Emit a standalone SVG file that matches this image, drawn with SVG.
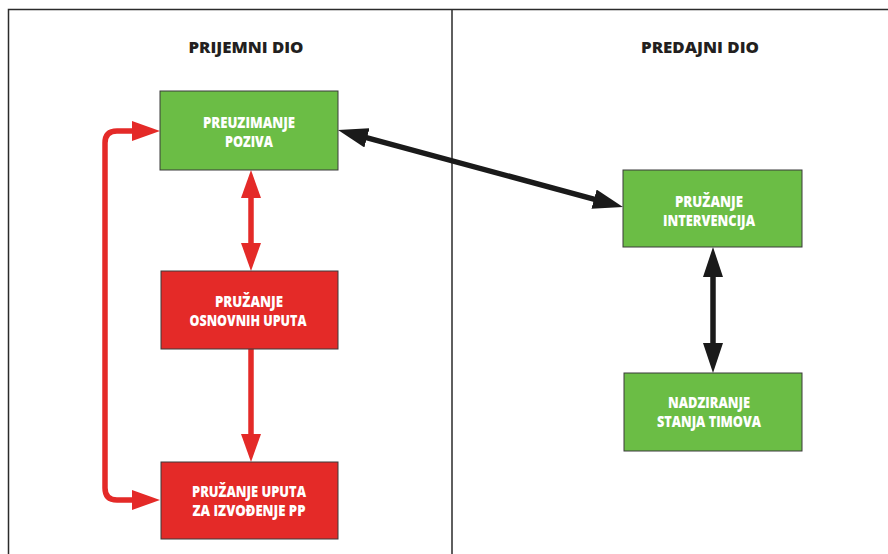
<svg xmlns="http://www.w3.org/2000/svg" width="888" height="554" viewBox="0 0 888 554">
<style>
.frame{fill:none;stroke:#2b2b2b;stroke-width:1.5}
.box{stroke:#3a3a3a;stroke-width:1}
.green{fill:#6bbd45}
.red{fill:#e42a28}
.lbl{font-family:"Open Sans","Liberation Sans",sans-serif;font-weight:800;font-size:15px;fill:#ffffff;text-anchor:middle}
.title{font-family:"Open Sans","Liberation Sans",sans-serif;font-weight:800;font-size:16px;fill:#231f20;text-anchor:middle}
.rc{fill:none;stroke:#e42a28;stroke-width:5.5}
.bc{fill:none;stroke:#1a1a1a;stroke-width:5.5}
</style>
<defs>
<marker id="ar" markerUnits="userSpaceOnUse" markerWidth="28" markerHeight="20" viewBox="0 0 28 20" refX="13" refY="10" orient="auto-start-reverse">
<path d="M0,0 L28,10 L0,20 z" fill="#e42a28"/>
</marker>
<marker id="ab" markerUnits="userSpaceOnUse" markerWidth="30" markerHeight="20" viewBox="0 0 30 20" refX="15" refY="10" orient="auto-start-reverse">
<path d="M0,0 L30,10 L0,20 z" fill="#1a1a1a"/>
</marker>
</defs>
<rect width="888" height="554" fill="#ffffff"/>
<g id="frame">
<path class="frame" d="M8.5,554 V9.5 H888 M452,9.5 V554"/>
<text class="title" x="246" y="53" textLength="115" lengthAdjust="spacingAndGlyphs">PRIJEMNI DIO</text>
<text class="title" x="700" y="53" textLength="118" lengthAdjust="spacingAndGlyphs">PREDAJNI DIO</text>
</g>
<g id="connectors">
<path class="rc" d="M145,131 H117 Q105,131 105,143 V488 Q105,500 117,500 H145" marker-start="url(#ar)" marker-end="url(#ar)"/>
<path class="rc" d="M251,185 V256" marker-start="url(#ar)" marker-end="url(#ar)"/>
<path class="rc" d="M251,349 V447" marker-end="url(#ar)"/>
<path class="bc" d="M352.5,133.9 L608.5,203.1" marker-start="url(#ab)" marker-end="url(#ab)"/>
<path class="bc" d="M713,262 V358" marker-start="url(#ab)" marker-end="url(#ab)"/>
</g>
<g id="preuzimanje">
<rect class="box green" x="160" y="91" width="178" height="79"/>
<text class="lbl" x="249" y="128" textLength="92" lengthAdjust="spacingAndGlyphs">PREUZIMANJE</text>
<text class="lbl" x="249" y="147" textLength="48" lengthAdjust="spacingAndGlyphs">POZIVA</text>
</g>
<g id="osnovne-upute">
<rect class="box red" x="161" y="271" width="177" height="78"/>
<text class="lbl" x="249" y="307" textLength="68" lengthAdjust="spacingAndGlyphs">PRUŽANJE</text>
<text class="lbl" x="248" y="326" textLength="117" lengthAdjust="spacingAndGlyphs">OSNOVNIH UPUTA</text>
</g>
<g id="upute-pp">
<rect class="box red" x="161" y="462" width="177" height="77"/>
<text class="lbl" x="249" y="497" textLength="114" lengthAdjust="spacingAndGlyphs">PRUŽANJE UPUTA</text>
<text class="lbl" x="249" y="516" textLength="113" lengthAdjust="spacingAndGlyphs">ZA IZVOĐENJE PP</text>
</g>
<g id="intervencije">
<rect class="box green" x="623" y="170" width="179" height="77"/>
<text class="lbl" x="709" y="207" textLength="68" lengthAdjust="spacingAndGlyphs">PRUŽANJE</text>
<text class="lbl" x="709" y="226" textLength="92" lengthAdjust="spacingAndGlyphs">INTERVENCIJA</text>
</g>
<g id="nadziranje">
<rect class="box green" x="624" y="373" width="178" height="78"/>
<text class="lbl" x="709" y="408" textLength="82" lengthAdjust="spacingAndGlyphs">NADZIRANJE</text>
<text class="lbl" x="709" y="427" textLength="104" lengthAdjust="spacingAndGlyphs">STANJA TIMOVA</text>
</g>
</svg>
